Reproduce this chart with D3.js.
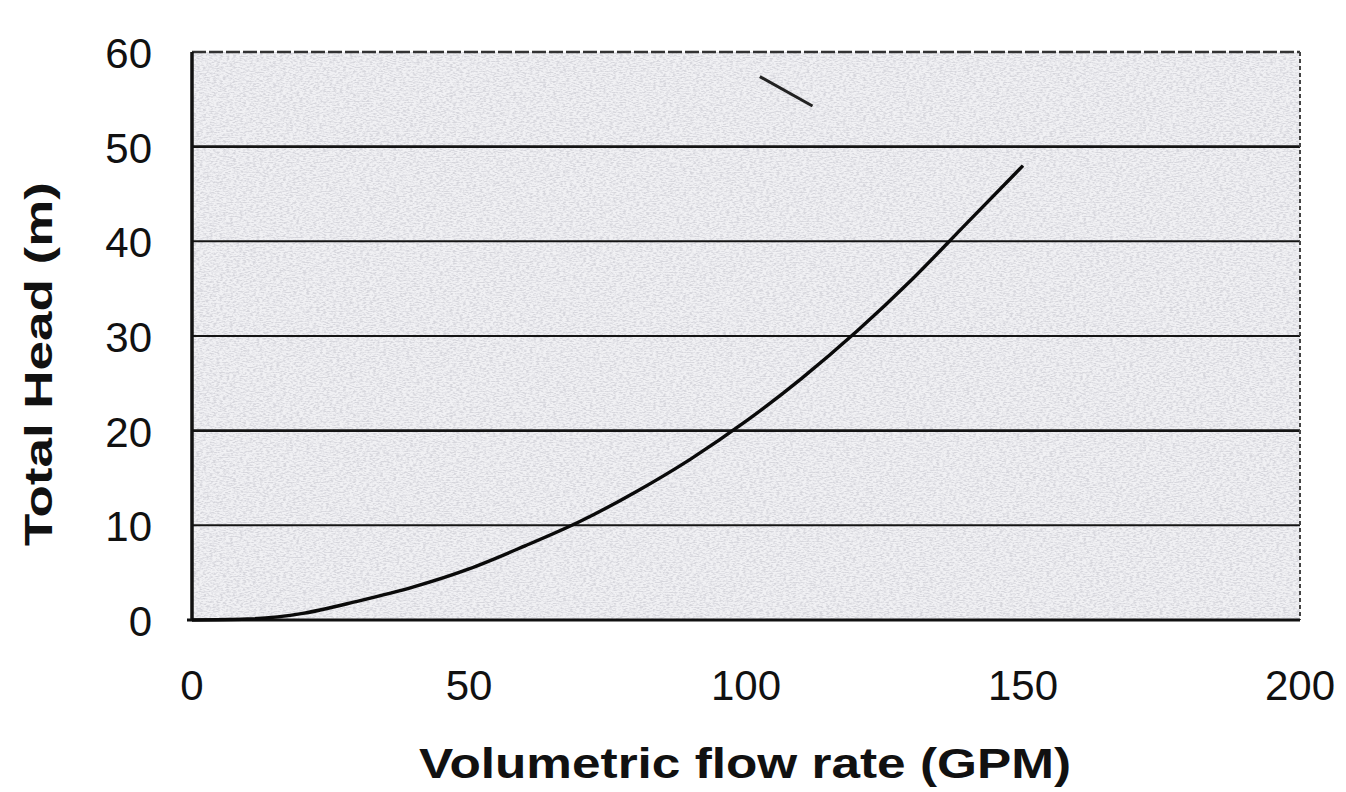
<!DOCTYPE html>
<html>
<head>
<meta charset="utf-8">
<script src="https://cdn.jsdelivr.net/npm/d3@7"></script>
<style>
  body { margin: 0; background: #fff; }
  text { font-family: "Liberation Sans", Arial, sans-serif; fill: #111; }
</style>
</head>
<body>
<div id="chart"></div>
<script>
const width = 1346;
const height = 792;

// pump system curve
const flow = [0, 10, 20, 30, 40, 50, 60, 70, 80, 90, 100, 110, 120, 130, 140, 150];
const head = [0, 0.1, 0.7, 2, 3.5, 5.4, 7.8, 10.4, 13.5, 17, 21, 25.5, 30.5, 36, 42, 48];
const xTicks = [0, 50, 100, 150, 200];
const yTicks = [0, 10, 20, 30, 40, 50, 60];
// small stray pen stroke near the top of the scan
const strayFlow = [102.5, 112];
const strayHead = [57.4, 54.3];

const margin = { top: 52, right: 46, bottom: 172, left: 192 };

const svg = d3.select("#chart")
  .append("svg")
  .attr("width", width)
  .attr("height", height);

const x = d3.scaleLinear().domain([0, 200]).range([margin.left, width - margin.right]);
const y = d3.scaleLinear().domain([0, 60]).range([height - margin.bottom, margin.top]);

// speckled scan texture
const defs = svg.append("defs");
const f = defs.append("filter").attr("id", "speckle").attr("x", 0).attr("y", 0).attr("width", 1).attr("height", 1);
f.append("feTurbulence").attr("type", "fractalNoise").attr("baseFrequency", "0.3 0.8").attr("numOctaves", 2).attr("seed", 4).attr("result", "n");
f.append("feColorMatrix").attr("in", "n").attr("type", "matrix")
  .attr("values", "0 0 0 0 0.5  0 0 0 0 0.5  0 0 0 0 0.56  0 0 0 -3.2 1.9");

svg.append("rect")
  .attr("x", x(0)).attr("y", y(60))
  .attr("width", x(200) - x(0)).attr("height", y(0) - y(60))
  .attr("fill", "#f1f1f4");

svg.append("rect")
  .attr("x", x(0)).attr("y", y(60))
  .attr("width", x(200) - x(0)).attr("height", y(0) - y(60))
  .attr("filter", "url(#speckle)")
  .attr("opacity", 0.5);

// horizontal grid lines
svg.append("g")
  .selectAll("line")
  .data(yTicks.filter(d => d > 0 && d < 60))
  .enter().append("line")
  .attr("x1", x(0)).attr("x2", x(200))
  .attr("y1", d => y(d)).attr("y2", d => y(d))
  .attr("stroke", "#151515")
  .attr("stroke-width", d => d === 50 || d === 20 ? 2.6 : 2);

// frame
svg.append("line")
  .attr("x1", x(0)).attr("x2", x(200)).attr("y1", y(60)).attr("y2", y(60))
  .attr("stroke", "#333").attr("stroke-width", 2.5).attr("stroke-dasharray", "14 3");
svg.append("line")
  .attr("x1", x(200)).attr("x2", x(200)).attr("y1", y(60)).attr("y2", y(0))
  .attr("stroke", "#444").attr("stroke-width", 2).attr("stroke-dasharray", "4 3");
svg.append("line")
  .attr("x1", x(0)).attr("x2", x(0)).attr("y1", y(60)).attr("y2", y(0))
  .attr("stroke", "#111").attr("stroke-width", 3.5);
svg.append("line")
  .attr("x1", x(0) - 5).attr("x2", x(200)).attr("y1", y(0)).attr("y2", y(0))
  .attr("stroke", "#111").attr("stroke-width", 3);

// tick labels
svg.append("g")
  .selectAll("text")
  .data(yTicks)
  .enter().append("text")
  .attr("x", 152)
  .attr("y", d => y(d) + 1)
  .attr("dy", "0.36em")
  .attr("text-anchor", "end")
  .attr("font-size", 42)
  .text(d => d);

svg.append("g")
  .selectAll("text")
  .data(xTicks)
  .enter().append("text")
  .attr("x", d => x(d))
  .attr("y", 700)
  .attr("text-anchor", "middle")
  .attr("font-size", 42)
  .text(d => d);

// curve
svg.append("path")
  .datum(flow.map((d, i) => [d, head[i]]))
  .attr("fill", "none")
  .attr("stroke", "#0a0a0a")
  .attr("stroke-width", 3.4)
  .attr("d", d3.line().x(d => x(d[0])).y(d => y(d[1])).curve(d3.curveMonotoneX));

svg.append("path")
  .datum(strayFlow.map((d, i) => [d, strayHead[i]]))
  .attr("fill", "none")
  .attr("stroke", "#222")
  .attr("stroke-width", 3)
  .attr("d", d3.line().x(d => x(d[0])).y(d => y(d[1])));

// axis titles
svg.append("text")
  .attr("transform", "translate(52, 364) rotate(-90)")
  .attr("text-anchor", "middle")
  .attr("font-size", 38)
  .attr("font-weight", "bold")
  .attr("fill", "#1a1a1a")
  .attr("textLength", 364)
  .attr("lengthAdjust", "spacingAndGlyphs")
  .text("Total Head (m)");

svg.append("text")
  .attr("x", 745)
  .attr("y", 778)
  .attr("text-anchor", "middle")
  .attr("font-size", 42)
  .attr("font-weight", "bold")
  .attr("fill", "#1a1a1a")
  .attr("textLength", 652)
  .attr("lengthAdjust", "spacingAndGlyphs")
  .text("Volumetric flow rate (GPM)");
</script>
</body>
</html>
